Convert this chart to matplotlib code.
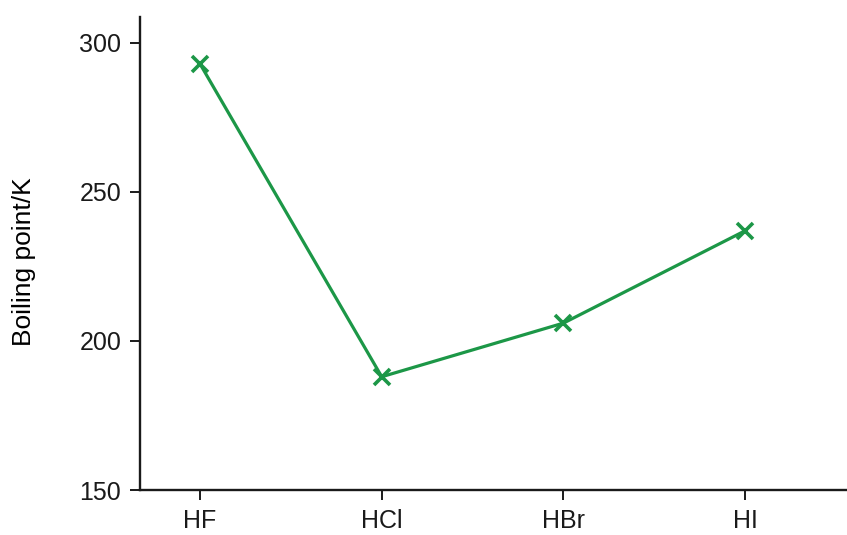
import matplotlib
matplotlib.use("Agg")
import matplotlib.pyplot as plt

compounds = ["HF", "HCl", "HBr", "HI"]
boiling_points = [293, 188, 206, 237]
y_ticks = [150, 200, 250, 300]

plt.rcParams["font.family"] = ["Liberation Sans", "DejaVu Sans"]

fig = plt.figure(figsize=(8.47, 5.35), dpi=100)
ax = fig.add_axes([140 / 847, 1 - 490 / 535, 1 - 140 / 847, (490 - 17) / 535])

green = "#1c9747"
x = list(range(len(compounds)))
ax.plot(x, boiling_points, color=green, lw=2.3, marker="x",
        markersize=12, markeredgewidth=2.6)

ax.set_xlim(-0.33, 3.56)
ax.set_ylim(150, 308.7)
ax.set_xticks(x)
ax.set_xticklabels(compounds)
ax.set_yticks(y_ticks)
ax.set_ylabel("Boiling point/K", fontsize=19)
ax.yaxis.set_label_coords(-(140 - 36) / (847 - 140), (490 - 262) / (490 - 17))

for side in ("top", "right"):
    ax.spines[side].set_visible(False)
for side in ("left", "bottom"):
    ax.spines[side].set_linewidth(1.7)
    ax.spines[side].set_color("#1a1a1a")

ax.tick_params(axis="both", direction="out", length=7.5, width=1.4,
               labelsize=18, colors="#1a1a1a")
ax.tick_params(axis="x", pad=6)
ax.tick_params(axis="y", pad=6)

fig.savefig("out.png", dpi=100)
